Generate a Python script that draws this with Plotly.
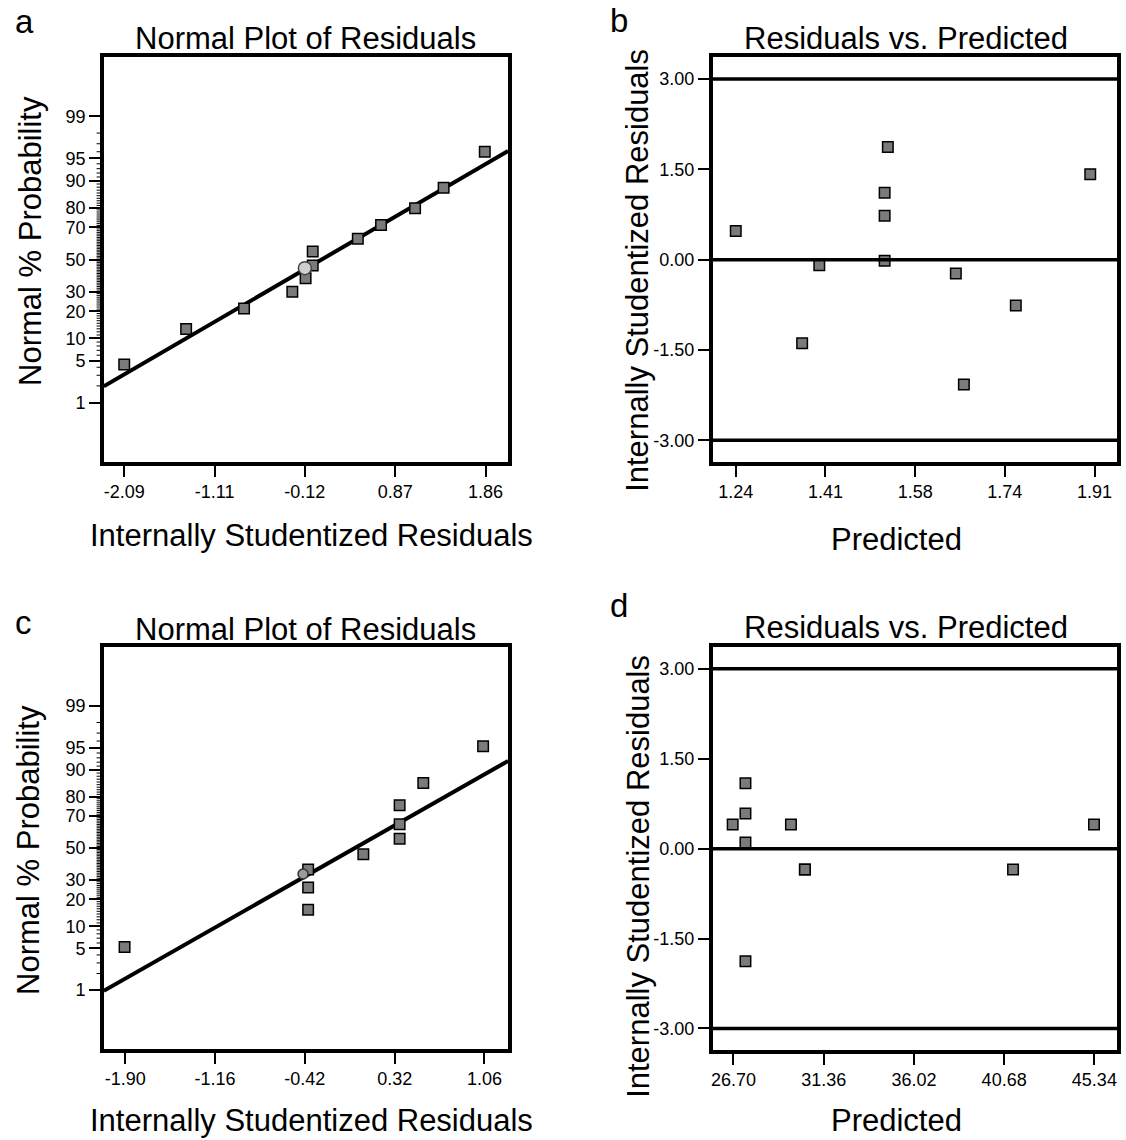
import plotly.graph_objects as go
from statistics import NormalDist

_nd = NormalDist()


def probit(values):
    return [_nd.inv_cdf(v / 100.0) for v in values]


# ---------------- data ----------------
# Panel a: normal probability plot
a_resid = [-2.090, -1.413, -0.780, -0.252, -0.107, -0.029, -0.029, 0.464, 0.718, 1.090, 1.402, 1.852]
a_prob = [4.4, 12.9, 21.3, 30.0, 38.1, 46.1, 55.1, 63.2, 71.2, 79.7, 87.8, 96.0]
a_sel_resid = [-0.115]
a_sel_prob = [44.4]
a_fit_resid = [-2.313, 2.107]
a_fit_prob = [1.97, 96.1]
a_xtick_vals = [-2.09, -1.1025, -0.115, 0.8725, 1.86]
a_xtick_text = ["-2.09", "-1.11", "-0.12", "0.87", "1.86"]

# Panel b: residuals vs predicted
b_pred = [1.240, 1.396, 1.364, 1.518, 1.518, 1.524, 1.518, 1.651, 1.666, 1.763, 1.902]
b_resid = [0.475, -0.095, -1.390, 1.111, 0.731, 1.872, -0.018, -0.232, -2.074, -0.761, 1.420]
b_xtick_vals = [1.24, 1.4075, 1.575, 1.7425, 1.91]
b_xtick_text = ["1.24", "1.41", "1.58", "1.74", "1.91"]

# Panel c: normal probability plot
c_resid = [-1.906, -0.393, -0.393, -0.393, 0.062, 0.361, 0.361, 0.361, 0.556, 1.049]
c_prob = [5.25, 15.6, 25.9, 36.3, 46.0, 56.0, 65.2, 75.8, 85.6, 95.2]
c_sel_resid = [-0.435]
c_sel_prob = [33.5]
c_fit_resid = [-2.077, 1.255]
c_fit_prob = [0.97, 92.3]
c_xtick_vals = [-1.90, -1.16, -0.42, 0.32, 1.06]
c_xtick_text = ["-1.90", "-1.16", "-0.42", "0.32", "1.06"]

# Panel d: residuals vs predicted
d_pred = [26.66, 27.32, 27.32, 27.32, 27.32, 29.67, 30.39, 30.39, 41.14, 45.32]
d_resid = [0.402, 1.092, 0.588, 0.102, -1.878, 0.402, -0.348, -0.348, -0.348, 0.402]
d_xtick_vals = [26.70, 31.36, 36.02, 40.68, 45.34]
d_xtick_text = ["26.70", "31.36", "36.02", "40.68", "45.34"]

# shared tick labels
prob_major = [1, 5, 10, 20, 30, 50, 70, 80, 90, 95, 99]
prob_major_text = ["1", "5", "10", "20", "30", "50", "70", "80", "90", "95", "99"]
prob_minor = [v for v in range(2, 99) if v not in prob_major]
resid_ticks = [-3.0, -1.5, 0.0, 1.5, 3.0]
resid_tick_text = ["-3.00", "-1.50", "0.00", "1.50", "3.00"]
ref_lines = [-3.0, 0.0, 3.0]

# ---------------- layout helpers ----------------
W, H = 1126, 1140
FONT = "Liberation Sans, Arial, Helvetica, sans-serif"
SQ_FILL = "#7b7b7b"


def px_x(p):
    return p / W


def px_y(p):
    return 1 - p / H


boxes = {
    "a": (102, 507, 57, 462),
    "b": (712, 1117, 57, 462),
    "c": (102, 507, 647, 1049),
    "d": (712, 1117, 647, 1050),
}

fig = go.Figure()


def square_trace(x, y, xa, ya):
    return go.Scatter(
        x=x, y=y, xaxis=xa, yaxis=ya, mode="markers", showlegend=False,
        marker=dict(symbol="square", size=10.5, color=SQ_FILL,
                    line=dict(color="black", width=1.5)),
        hoverinfo="x+y",
    )


# Panel a
fig.add_trace(go.Scatter(x=a_fit_resid, y=probit(a_fit_prob), xaxis="x", yaxis="y",
                         mode="lines", line=dict(color="black", width=4), showlegend=False))
fig.add_trace(square_trace(a_resid, probit(a_prob), "x", "y"))
fig.add_trace(go.Scatter(x=a_sel_resid, y=probit(a_sel_prob), xaxis="x", yaxis="y", mode="markers",
                         marker=dict(symbol="circle", size=13, color="#cfcfcf",
                                     line=dict(color="#444444", width=1.5)), showlegend=False))

# Panel b
fig.add_trace(square_trace(b_pred, b_resid, "x2", "y2"))

# Panel c
fig.add_trace(go.Scatter(x=c_fit_resid, y=probit(c_fit_prob), xaxis="x3", yaxis="y3",
                         mode="lines", line=dict(color="black", width=4), showlegend=False))
fig.add_trace(square_trace(c_resid, probit(c_prob), "x3", "y3"))
fig.add_trace(go.Scatter(x=c_sel_resid, y=probit(c_sel_prob), xaxis="x3", yaxis="y3", mode="markers",
                         marker=dict(symbol="circle", size=10, color="#9a9a9a",
                                     line=dict(color="#333333", width=1.5)), showlegend=False))

# Panel d
fig.add_trace(square_trace(d_pred, d_resid, "x4", "y4"))

# reference lines on residual plots
for xref, yref in (("x2", "y2"), ("x4", "y4")):
    for v in ref_lines:
        fig.add_shape(type="line", xref=f"{xref} domain", yref=yref, x0=0, x1=1, y0=v, y1=v,
                      line=dict(color="black", width=3.5), layer="above")

# minor probability ticks on the normal plots (drawn just outside the left axis line)
BOX_W = 405.0
for xref, yref in (("x", "y"), ("x3", "y3")):
    for zv in probit(prob_minor):
        fig.add_shape(type="line", xref=f"{xref} domain", yref=yref,
                      x0=-(1.75 + 5.5) / BOX_W, x1=-1.0 / BOX_W, y0=zv, y1=zv,
                      line=dict(color="black", width=1), layer="above")

tickfont = dict(family=FONT, size=18, color="black")


def axis_common(domain):
    return dict(domain=domain, showline=True, linewidth=3.5, linecolor="black", mirror=True,
                ticks="outside", ticklen=11, tickwidth=1.5, tickcolor="black",
                showgrid=False, zeroline=False, tickfont=tickfont, fixedrange=True)


def xdom(key):
    l, r, t, b = boxes[key]
    return [px_x(l), px_x(r)]


def ydom(key):
    l, r, t, b = boxes[key]
    return [px_y(b), px_y(t)]


PROB_RANGE = [-3.29, 3.29]
prob_y = dict(range=PROB_RANGE, tickmode="array", tickvals=probit(prob_major), ticktext=prob_major_text)
resid_y = dict(range=[-3.36, 3.365], tickmode="array", tickvals=resid_ticks, ticktext=resid_tick_text)

fig.update_layout(
    width=W, height=H, margin=dict(l=0, r=0, t=0, b=0),
    paper_bgcolor="white", plot_bgcolor="white", showlegend=False,
    xaxis=dict(**axis_common(xdom("a")), anchor="y", range=[-2.313, 2.107], tickmode="array",
               tickvals=a_xtick_vals, ticktext=a_xtick_text),
    yaxis=dict(**axis_common(ydom("a")), anchor="x", **prob_y),
    xaxis2=dict(**axis_common(xdom("b")), anchor="y2", range=[1.197, 1.952], tickmode="array",
                tickvals=b_xtick_vals, ticktext=b_xtick_text),
    yaxis2=dict(**axis_common(ydom("b")), anchor="x2", **resid_y),
    xaxis3=dict(**axis_common(xdom("c")), anchor="y3", range=[-2.077, 1.255], tickmode="array",
                tickvals=c_xtick_vals, ticktext=c_xtick_text),
    yaxis3=dict(**axis_common(ydom("c")), anchor="x3", **prob_y),
    xaxis4=dict(**axis_common(xdom("d")), anchor="y4", range=[25.63, 46.51], tickmode="array",
                tickvals=d_xtick_vals, ticktext=d_xtick_text),
    yaxis4=dict(**axis_common(ydom("d")), anchor="x4", **resid_y),
)


def text(t, x, y, size, angle=0):
    fig.add_annotation(text=t, x=px_x(x), y=px_y(y), xref="paper", yref="paper",
                       xanchor="center", yanchor="middle", showarrow=False, textangle=angle,
                       font=dict(family=FONT, size=size, color="black"))


# panel letters
text("a", 23, 22, 33)
text("b", 618, 20, 33)
text("c", 22, 622, 33)
text("d", 618, 605, 33)

# titles
text("Normal Plot of Residuals", 304, 39, 31)
text("Residuals vs. Predicted", 906, 39, 31)
text("Normal Plot of Residuals", 304, 629, 31)
text("Residuals vs. Predicted", 906, 627, 31)

# x-axis titles
text("Internally Studentized Residuals", 310, 535, 31)
text("Predicted", 896, 540, 31)
text("Internally Studentized Residuals", 310, 1120, 31)
text("Predicted", 896, 1120, 31)

# y-axis titles
text("Normal % Probability", 28, 241, 31, -90)
text("Internally Studentized Residuals", 637, 270, 31, -90)
text("Normal % Probability", 26, 850, 31, -90)
text("Internally Studentized Residuals", 638, 876, 31, -90)

fig.write_html("out.html")
